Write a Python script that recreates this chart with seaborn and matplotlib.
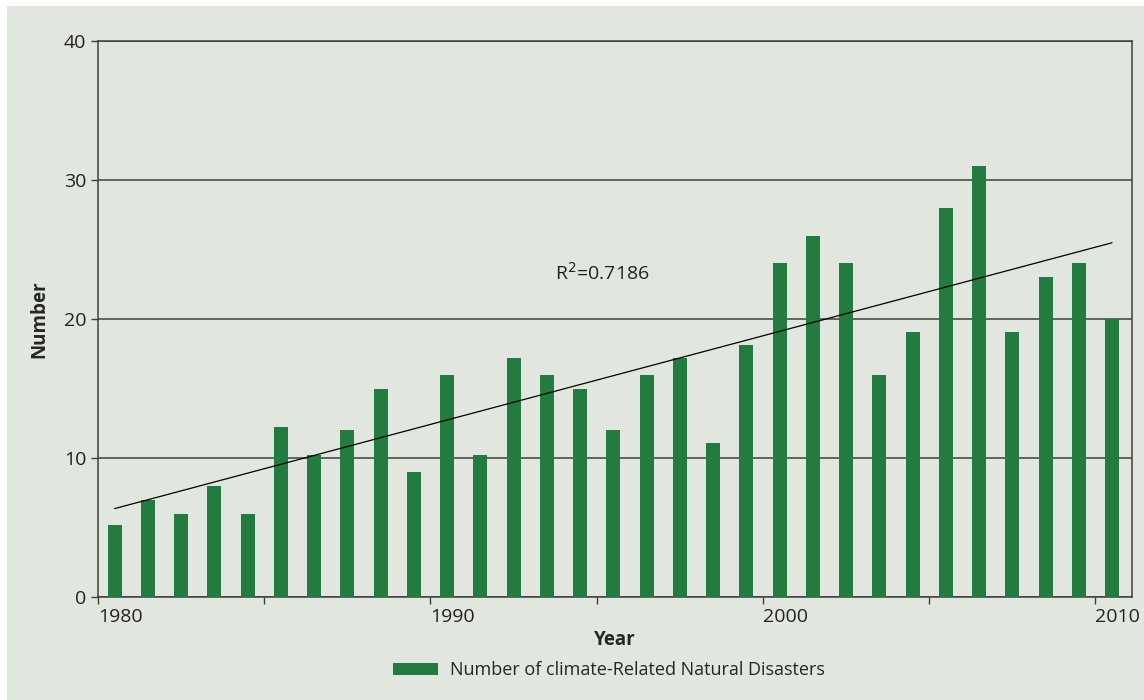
import numpy as np
import pandas as pd
import matplotlib
matplotlib.use('Agg')
import matplotlib.pyplot as plt
import seaborn as sns
from matplotlib.patches import Rectangle, Patch

# data
years = list(range(1980, 2011))
disasters = [5.2, 7, 6, 8, 6, 12.2, 10.2, 12, 15, 9,
             16, 10.2, 17.2, 16, 15, 12, 16, 17.2, 11.1, 18.1,
             24, 26, 24, 16, 19.1, 28, 31, 19.1, 23, 24,
             20]
major_years = [1980, 1990, 2000, 2010]
minor_years = [1985, 1995, 2005]
y_ticks = [0, 10, 20, 30, 40]
r2_label = 'R$^2$=0.7186'
legend_label = 'Number of climate-Related Natural Disasters'

bg = '#e1e6df'
green = '#227c40'
dark = '#3f403e'

sns.set_style('white')
plt.rcParams['font.family'] = ['Open Sans', 'DejaVu Sans']

df = pd.DataFrame({'year': years, 'count': disasters})

fig = plt.figure(figsize=(11.44, 7), dpi=100)
fig.patch.set_facecolor('white')
# grey panel behind the chart (white strip on top and left in the original)
fig.patches.append(Rectangle((7 / 1144, 0), 1 - 7 / 1144, 1 - 6 / 700,
                             transform=fig.transFigure, facecolor=bg,
                             edgecolor='none', zorder=-1))

ax = fig.add_axes([98 / 1144, 103 / 700, (1132 - 98) / 1144, (597 - 41) / 700])
ax.set_facecolor(bg)

sns.barplot(data=df, x='year', y='count', color=green, width=0.42,
            saturation=1, linewidth=0, ax=ax, zorder=3)

# linear trend line through the bars
sns.regplot(x=np.arange(len(years)), y=np.array(disasters), scatter=False,
            ci=None, color='black', line_kws={'linewidth': 0.9, 'zorder': 4},
            ax=ax)

ax.set_xlim(-0.5, 30.6)
ax.set_ylim(0, 40)

# ticks sit on the year boundaries, labels hang to the right of the tick
ax.set_xticks([y - years[0] - 0.5 for y in major_years])
ax.set_xticklabels([str(y) for y in major_years], ha='left')
ax.set_xticks([y - years[0] - 0.5 for y in minor_years], minor=True)
ax.tick_params(axis='x', which='both', direction='out', length=5, width=1,
               color=dark, bottom=True, labelsize=14, pad=3,
               labelcolor='#222222')
ax.set_yticks(y_ticks)
ax.tick_params(axis='y', direction='out', length=5, width=1, color=dark,
               left=True, labelsize=14, labelcolor='#222222')

ax.grid(axis='y', color=dark, linewidth=1.1, zorder=1)
ax.set_axisbelow(True)
for side in ['left', 'right', 'top', 'bottom']:
    ax.spines[side].set_visible(True)
    ax.spines[side].set_color(dark)
    ax.spines[side].set_linewidth(1.1)

ax.set_xlabel('Year', fontsize=13.5, fontweight='bold', labelpad=3)
ax.set_ylabel('Number', fontsize=13.5, fontweight='bold', labelpad=10)

ax.text(13.25, 23.3, r2_label, fontsize=14, color='#222222',
        ha='left', va='center', zorder=5)

handles = [Patch(facecolor=green, edgecolor='none', label=legend_label)]
fig.legend(handles=handles, loc='center', bbox_to_anchor=(609 / 1144, 30 / 700),
           frameon=False, fontsize=13, handlelength=2.5, handleheight=0.65,
           handletextpad=0.7)

fig.savefig('out.png', dpi=100, facecolor=fig.get_facecolor())
